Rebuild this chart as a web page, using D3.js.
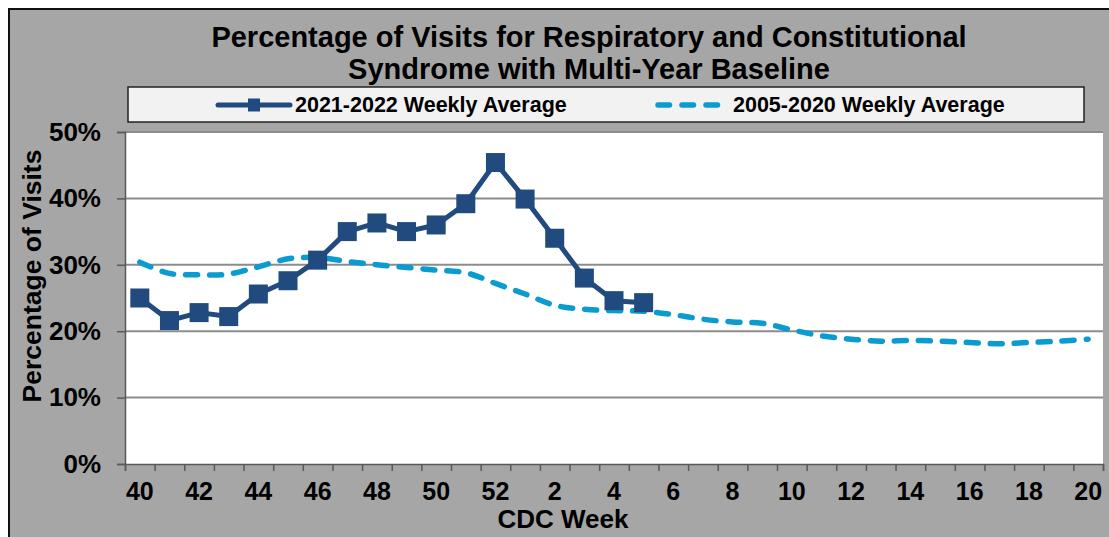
<!DOCTYPE html>
<html>
<head>
<meta charset="utf-8">
<script src="https://cdn.jsdelivr.net/npm/d3@7"></script>
<style>
body{margin:0;background:#fff;}
svg{display:block;font-family:"Liberation Sans",Arial,sans-serif;font-weight:bold;}
</style>
</head>
<body>
<svg id="chart" width="1109" height="537"></svg>
<script>
var weeks = ["40","41","42","43","44","45","46","47","48","49","50","51","52",
	"1","2","3","4","5","6","7","8","9","10","11","12","13","14","15","16","17","18","19","20"];
var season2122 = [25.0,21.6,22.8,22.2,25.6,27.6,30.7,35.0,36.3,35.0,36.0,39.2,45.4,39.9,34.0,28.0,24.6,24.3];
var baseline = [30.4,28.7,28.5,28.6,29.7,30.9,31.1,30.5,30.0,29.6,29.2,28.8,27.2,25.6,23.9,23.3,23.1,23.0,
	22.5,21.8,21.4,21.2,20.2,19.3,18.8,18.5,18.6,18.5,18.3,18.1,18.3,18.5,18.8];
var yTicks = [0,10,20,30,40,50];
var titleLines = ["Percentage of Visits for Respiratory and Constitutional","Syndrome with Multi-Year Baseline"];
var legendNames = ["2021-2022 Weekly Average","2005-2020 Weekly Average"];

var dark = "#214A7E", light = "#0A9BD0";
var svg = d3.select("#chart");

// frame
svg.append("rect").attr("x",9).attr("y",9).attr("width",1110).attr("height",540)
	.attr("fill","#A6A6A6").attr("stroke","#111").attr("stroke-width",2);

var plot = {l:125, r:1103, t:132, b:464};

var x = d3.scaleBand().domain(weeks).range([plot.l,plot.r]).padding(0);
var xEdge = d3.scaleLinear().domain([0,weeks.length]).range([plot.l,plot.r]);
var y = d3.scaleLinear().domain([0,50]).range([plot.b,plot.t]);
function cx(i){ return x(weeks[i]) + x.bandwidth()/2; }

svg.append("rect").attr("x",plot.l).attr("y",plot.t).attr("width",plot.r-plot.l).attr("height",plot.b-plot.t)
	.attr("fill","#fff");

svg.append("g").selectAll("line").data(yTicks.slice(1)).enter().append("line")
	.attr("x1",plot.l).attr("x2",plot.r)
	.attr("y1",function(d){return y(d)}).attr("y2",function(d){return y(d)})
	.attr("stroke","#8C8C8C").attr("stroke-width",2);

// y axis
var gy = svg.append("g").attr("transform","translate("+plot.l+",0)")
	.call(d3.axisLeft(y).tickValues(yTicks).tickSize(8).tickPadding(16).tickFormat(function(d){return d+"%"}));
gy.select(".domain").attr("stroke","#595959").attr("stroke-width",1.5);
gy.selectAll(".tick line").attr("stroke","#595959").attr("stroke-width",1.5);
gy.selectAll("text").attr("font-size",26).attr("fill","#000").attr("font-family","Liberation Sans").attr("font-weight","bold");

// x axis: ticks between categories, labels every 2nd week
var gxt = svg.append("g").attr("transform","translate(0,"+plot.b+")")
	.call(d3.axisBottom(xEdge).tickValues(d3.range(weeks.length+1)).tickSize(7).tickFormat(""));
gxt.select(".domain").attr("stroke","#595959").attr("stroke-width",1.5);
gxt.selectAll(".tick line").attr("stroke","#595959").attr("stroke-width",1.5);

var gx = svg.append("g").attr("transform","translate(0,"+plot.b+")")
	.call(d3.axisBottom(x).tickSize(0).tickPadding(18).tickFormat(function(d,i){return i%2==0 ? d : ""}));
gx.select(".domain").remove();
gx.selectAll("text").attr("font-size",25).attr("fill","#000").attr("font-family","Liberation Sans").attr("font-weight","bold");

// baseline (smoothed, dashed)
var lineB = d3.line().x(function(d,i){return cx(i)}).y(function(d){return y(d)}).curve(d3.curveCatmullRom);
svg.append("path").datum(baseline).attr("d",lineB).attr("fill","none")
	.attr("stroke",light).attr("stroke-width",5.5).attr("stroke-dasharray","12,12").attr("stroke-linecap","round");

// current season
var lineS = d3.line().x(function(d,i){return cx(i)}).y(function(d){return y(d)});
svg.append("path").datum(season2122).attr("d",lineS).attr("fill","none")
	.attr("stroke",dark).attr("stroke-width",5).attr("stroke-linejoin","round");
svg.append("g").selectAll("rect").data(season2122).enter().append("rect")
	.attr("x",function(d,i){return cx(i)-9.5}).attr("y",function(d){return y(d)-9.5})
	.attr("width",19).attr("height",19).attr("fill",dark);

// titles
svg.append("g").selectAll("text").data(titleLines).enter().append("text")
	.attr("x",589).attr("y",function(d,i){return 47+i*32})
	.attr("text-anchor","middle").attr("font-size",29).text(function(d){return d});

svg.append("text").attr("transform","translate(41,276) rotate(-90)")
	.attr("text-anchor","middle").attr("font-size",26.5).text("Percentage of Visits");
svg.append("text").attr("x",563).attr("y",528)
	.attr("text-anchor","middle").attr("font-size",26).text("CDC Week");

// legend
var leg = svg.append("g");
leg.append("rect").attr("x",128).attr("y",87).attr("width",956).attr("height",35)
	.attr("fill","#F2F2F2").attr("stroke","#222").attr("stroke-width",1.5);
leg.append("line").attr("x1",218).attr("x2",290).attr("y1",105).attr("y2",105)
	.attr("stroke",dark).attr("stroke-width",5).attr("stroke-linecap","round");
leg.append("rect").attr("x",248).attr("y",98.5).attr("width",12).attr("height",13).attr("fill",dark);
leg.append("line").attr("x1",658).attr("x2",718).attr("y1",105).attr("y2",105)
	.attr("stroke",light).attr("stroke-width",5.5).attr("stroke-dasharray","11.5,12.5").attr("stroke-linecap","round");
leg.selectAll("text.lg").data(legendNames).enter().append("text").attr("class","lg")
	.attr("x",function(d,i){return i==0 ? 295 : 733}).attr("y",112)
	.attr("font-size",21.5).text(function(d){return d});
</script>
</body>
</html>
